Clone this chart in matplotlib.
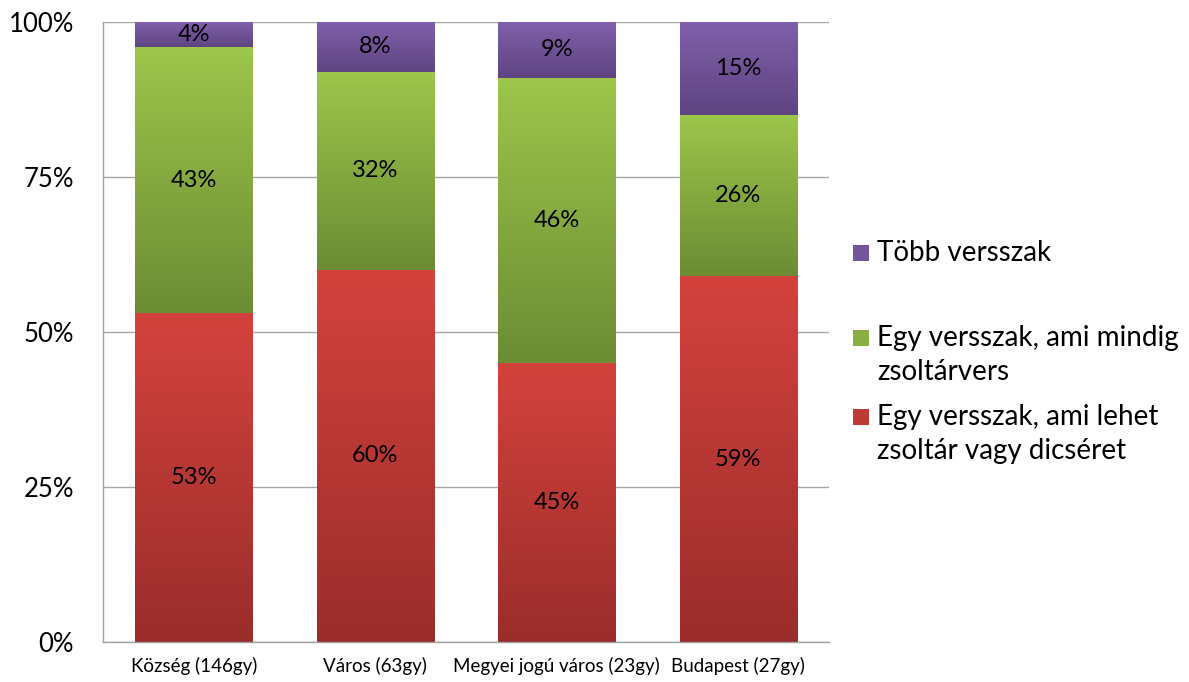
import numpy as np
import matplotlib
matplotlib.use("Agg")
import matplotlib.pyplot as plt
from matplotlib.colors import LinearSegmentedColormap
from matplotlib.patches import Rectangle

plt.rcParams['font.family'] = ['Lato', 'DejaVu Sans']

# data (percent)
categories = ["Község (146gy)", "Város (63gy)", "Megyei jogú város (23gy)", "Budapest (27gy)"]
red_vals = [53, 60, 45, 59]      # Egy versszak, ami lehet zsoltár vagy dicséret
green_vals = [43, 32, 46, 26]    # Egy versszak, ami mindig zsoltárvers
purple_vals = [4, 8, 9, 15]      # Több versszak
series_names = ["Egy versszak, ami lehet\nzsoltár vagy dicséret",
                "Egy versszak, ami mindig\nzsoltárvers",
                "Több versszak"]
yticks = [0, 25, 50, 75, 100]

# gradient colours (bottom dark -> top light)
grads = [("#9a2d2b", "#d4423d"),
         ("#6c8c34", "#9dc64b"),
         ("#5e4481", "#8160ab")]

W, H = 1189, 682
fig = plt.figure(figsize=(W / 100, H / 100), dpi=100)
ax = fig.add_axes([103 / W, 1 - 642 / H, (829 - 103) / W, (642 - 22) / H])

x = np.arange(len(categories))
bar_w = 0.645
bottom = np.zeros(len(categories))
all_vals = [red_vals, green_vals, purple_vals]
grad_img = np.linspace(0, 1, 256).reshape(-1, 1)

for vals, (c0, c1) in zip(all_vals, grads):
    vals = np.array(vals, dtype=float)
    bars = ax.bar(x, vals, bar_w, bottom=bottom, color='none', edgecolor='none', zorder=2)
    cmap = LinearSegmentedColormap.from_list("g", [c0, c1])
    for b, v in zip(bars, vals):
        bx, by = b.get_x(), b.get_y()
        ax.imshow(grad_img, extent=[bx, bx + b.get_width(), by, by + b.get_height()],
                  cmap=cmap, aspect='auto', origin='lower', zorder=2)
        ax.text(bx + b.get_width() / 2, by + b.get_height() / 2, f"{int(v)}%",
                ha='center', va='center', fontsize=17, color='black', zorder=3)
    bottom += vals

ax.set_xlim(-0.5, len(categories) - 0.5)
ax.set_ylim(0, 100)
ax.set_yticks(yticks)
ax.set_yticklabels([f"{t}%" for t in yticks], fontsize=18.5)
ax.set_xticks(x)
ax.set_xticklabels(categories, fontsize=13.5)
ax.tick_params(axis='both', length=0)
ax.tick_params(axis='y', pad=21)
ax.tick_params(axis='x', pad=11)
ax.yaxis.grid(True, color='#a6a6a6', linewidth=1.0, zorder=0)
ax.set_axisbelow(True)
for s in ['top', 'right']:
    ax.spines[s].set_visible(False)
for s in ['left', 'bottom']:
    ax.spines[s].set_color('#a0a0a0')
    ax.spines[s].set_linewidth(1.0)

# legend drawn by hand (Excel-like spacing)
legend_rows = [253, 338, 417]
line_gap = 34
sq = 16
for name, (c0, c1), yrow in zip(series_names[::-1], grads[::-1], legend_rows):
    mid = LinearSegmentedColormap.from_list("g", [c0, c1])(0.6)
    fig.add_artist(Rectangle((853 / W, 1 - (yrow + sq / 2) / H), sq / W, sq / H,
                             transform=fig.transFigure, facecolor=mid, edgecolor='none'))
    for k, line in enumerate(name.split("\n")):
        fig.text(877 / W, 1 - (yrow + k * line_gap) / H, line, fontsize=20,
                 ha='left', va='center', color='black')

fig.savefig("out.png", dpi=100)
